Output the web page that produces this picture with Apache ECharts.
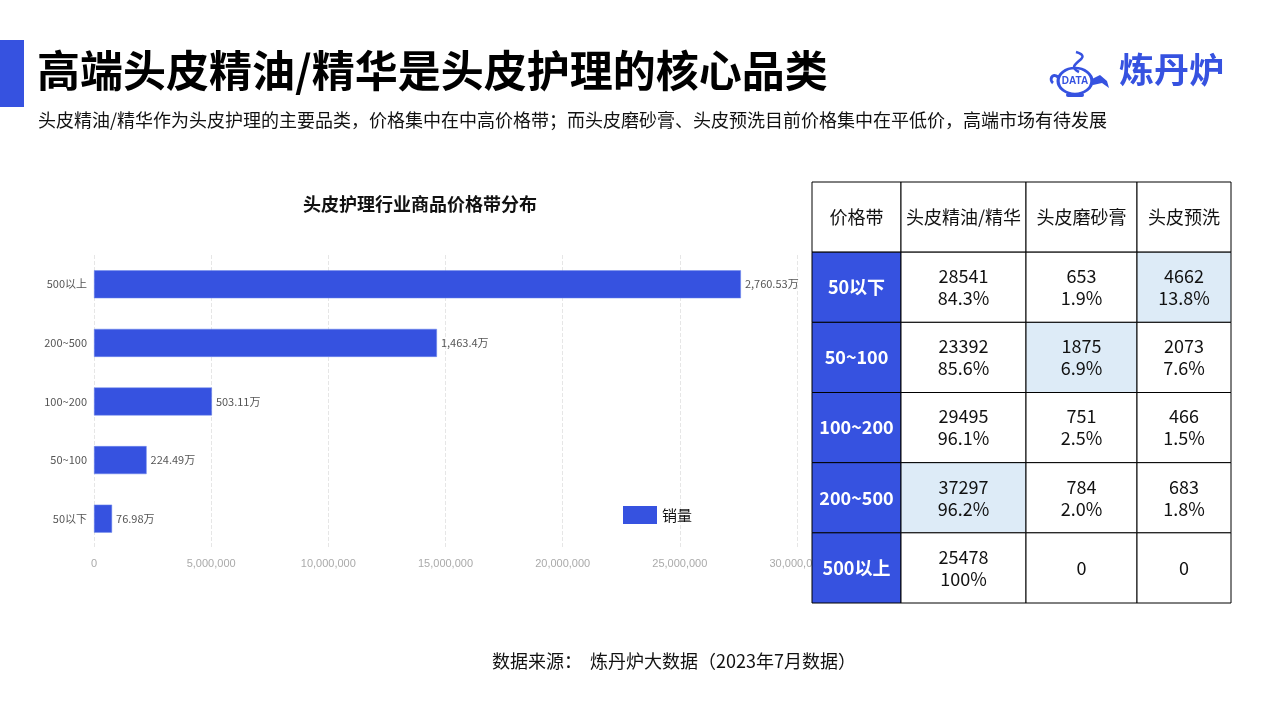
<!DOCTYPE html>
<html><head><meta charset="utf-8">
<script src="https://cdn.jsdelivr.net/npm/echarts@6/dist/echarts.min.js"></script>
<style>html,body{margin:0;padding:0;background:#fff}#c{width:1280px;height:720px}</style>
</head><body><div id="c"></div>
<script>
// ---- bar chart data ----
const priceBands = ['50以下', '50~100', '100~200', '200~500', '500以上'];
const salesVolume = [769800, 2244900, 5031100, 14634000, 27605300];
const xTicks = [0, 5000000, 10000000, 15000000, 20000000, 25000000, 30000000];

// ---- table data ----
const tableHeader = ['价格带', '头皮精油/精华', '头皮磨砂膏', '头皮预洗'];
const tableRows = ['50以下', '50~100', '100~200', '200~500', '500以上'];
const essenceCount = [28541, 23392, 29495, 37297, 25478];
const essencePct = ['84.3%', '85.6%', '96.1%', '96.2%', '100%'];
const scrubCount = [653, 1875, 751, 784, 0];
const scrubPct = ['1.9%', '6.9%', '2.5%', '2.0%', ''];
const prewashCount = [4662, 2073, 466, 683, 0];
const prewashPct = ['13.8%', '7.6%', '1.5%', '1.8%', ''];
// highlighted cells: [columnIndex, rowIndex]
const highlighted = [[3, 0], [2, 1], [1, 3]];

// ---- layout (not data) ----
const colEdges = [0, 89 / 419, 214 / 419, 325 / 419, 1];
const BLUE = '#3652E0';
const FONT = '"Noto Sans CJK SC", "Noto Sans", sans-serif';

// Build table cell list
const counts = [essenceCount, scrubCount, prewashCount];
const pcts = [essencePct, scrubPct, prewashPct];
const cells = [];
tableHeader.forEach((h, c) => cells.push({ value: [c, 0], txt: h, kind: 'header' }));
tableRows.forEach((r, i) => {
  cells.push({ value: [0, i + 1], txt: r, kind: 'rowhead' });
  for (let k = 0; k < 3; k++) {
    const p = pcts[k][i];
    const t = p ? counts[k][i] + '\n' + p : String(counts[k][i]);
    const hl = highlighted.some(h => h[0] === k + 1 && h[1] === i);
    cells.push({ value: [k + 1, i + 1], txt: t, kind: hl ? 'hl' : 'plain' });
  }
});

const chart = echarts.init(document.getElementById('c'));
chart.setOption({
  animation: false,
  backgroundColor: '#fff',
  textStyle: { fontFamily: FONT },
  title: {
    text: '头皮护理行业商品价格带分布',
    left: 415, top: 190, textAlign: 'center',
    textStyle: { fontSize: 18, fontWeight: 'bold', color: '#111', fontFamily: FONT }
  },
  legend: {
    data: ['销量'], left: 618, top: 501,
    itemWidth: 34, itemHeight: 18, itemGap: 8,
    icon: 'rect',
    itemStyle: { borderWidth: 0 },
    textStyle: { fontSize: 15, color: '#111', fontFamily: FONT }
  },
  grid: [
    { left: 94, width: 703, top: 255, height: 293 },
    { left: 812, width: 419, top: 182, height: 421 }
  ],
  xAxis: [
    {
      gridIndex: 0, type: 'value', min: 0, max: 30000000, interval: 5000000,
      axisLine: { show: false }, axisTick: { show: false },
      axisLabel: { color: '#aaa', fontSize: 11, margin: 10, fontFamily: 'Liberation Sans, Arial, sans-serif',
        formatter: v => v.toLocaleString('en-US') },
      splitLine: { show: true, lineStyle: { type: 'dashed', color: '#e6e6e6' } }
    },
    { gridIndex: 1, type: 'value', min: 0, max: 1, show: false }
  ],
  yAxis: [
    {
      gridIndex: 0, type: 'category', data: priceBands,
      axisLine: { show: false }, axisTick: { show: false },
      axisLabel: { color: '#555', fontSize: 11, margin: 7, fontFamily: FONT }
    },
    { gridIndex: 1, type: 'category', data: [0, 1, 2, 3, 4, 5], inverse: true, show: false }
  ],
  series: [
    {
      name: '销量', type: 'bar', xAxisIndex: 0, yAxisIndex: 0,
      data: salesVolume, barWidth: 28,
      itemStyle: { color: BLUE, borderColor: '#6d86ea', borderWidth: 0.5 },
      label: {
        show: true, position: 'right', distance: 4, color: '#555', fontSize: 11,
        fontFamily: FONT,
        formatter: p => (Math.round(p.value / 100) / 100).toLocaleString('en-US') + '万'
      }
    },
    {
      type: 'custom', xAxisIndex: 1, yAxisIndex: 1, z: 10,
      data: cells,
      renderItem: function (params, api) {
        const c = api.value(0), r = api.value(1);
        const cell = cells[params.dataIndex];
        const bh = api.size([0, 1])[1];
        const p0 = api.coord([colEdges[c], r]);
        const p1 = api.coord([colEdges[c + 1], r]);
        const x = p0[0], w = p1[0] - p0[0], y = p0[1] - bh / 2;
        let fill = '#fff', color = '#111', weight = 'normal', size = 18;
        if (cell.kind === 'rowhead') { fill = BLUE; color = '#fff'; weight = 'bold'; size = 18; }
        if (cell.kind === 'hl') fill = '#DDEBF7';
        return {
          type: 'group',
          children: [
            { type: 'rect', shape: { x: x, y: y, width: w, height: bh },
              style: { fill: fill, stroke: '#000', lineWidth: 1 } },
            { type: 'text', style: { x: x + w / 2, y: y + bh / 2, text: cell.txt,
                align: 'center', verticalAlign: 'middle', fill: color, fontSize: size,
                fontWeight: weight, fontFamily: FONT, lineHeight: 22 } }
          ]
        };
      }
    }
  ],
  graphic: [
    { type: 'rect', x: 0, y: 40, shape: { width: 24, height: 67 }, style: { fill: BLUE } },
    { type: 'text', x: 37, y: 49, style: { text: '高端头皮精油/精华是头皮护理的核心品类',
        fontSize: 43, fontWeight: 'bold', fill: '#000', fontFamily: FONT } },
    { type: 'text', x: 38, y: 111, style: { text: '头皮精油/精华作为头皮护理的主要品类，价格集中在中高价格带；而头皮磨砂膏、头皮预洗目前价格集中在平低价，高端市场有待发展',
        fontSize: 18, fill: '#111', fontFamily: FONT } },
    { type: 'text', x: 1119, y: 52, style: { text: '炼丹炉', fontSize: 35, fontWeight: 'bold', fill: BLUE, fontFamily: FONT } },
    // logo icon
    { type: 'group', x: 1052, y: 50, children: [
      { type: 'bezierCurve', shape: { x1: 24, y1: 2, x2: 27, y2: 22, cpx1: 44, cpy1: 8, cpx2: 10, cpy2: 14 },
        style: { stroke: BLUE, lineWidth: 2.5, fill: null } },
      { type: 'circle', x: 23, y: 31, scaleX: 1.3, shape: { cx: 0, cy: 0, r: 13 },
        style: { fill: null, stroke: BLUE, lineWidth: 2.5 } },
      { type: 'bezierCurve', shape: { x1: 6, y1: 27, x2: 1, y2: 33, cpx1: 0, cpy1: 22, cpx2: -3, cpy2: 30 },
        style: { stroke: BLUE, lineWidth: 3, fill: null } },
      { type: 'polygon', shape: { points: [[40, 29], [48, 25], [55, 31], [57, 38], [50, 33], [41, 35]] },
        style: { fill: BLUE } },
      { type: 'rect', shape: { x: 14, y: 43, width: 18, height: 4, r: 2 }, style: { fill: BLUE } },
      { type: 'text', style: { x: 23, y: 31, text: 'DATA', align: 'center', verticalAlign: 'middle',
          fontSize: 10, fontWeight: 'bold', fill: BLUE, fontFamily: 'Liberation Sans, Arial, sans-serif' } }
    ] },
    { type: 'text', x: 492, y: 652, style: { text: '数据来源：  炼丹炉大数据（2023年7月数据）',
        fontSize: 18, fill: '#111', fontFamily: FONT } }
  ]
});
</script></body></html>
